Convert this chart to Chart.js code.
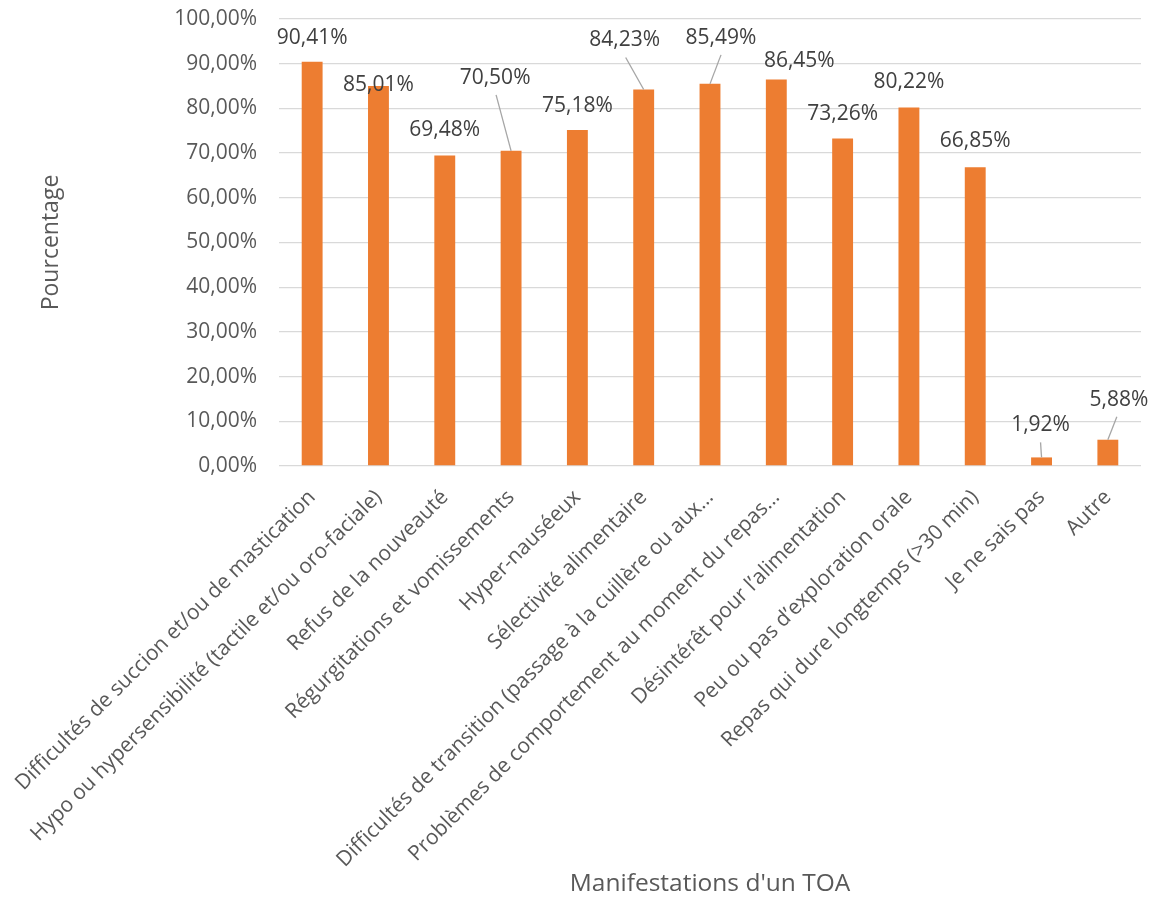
<!DOCTYPE html>
<html><head><meta charset="utf-8">
<script src="https://cdn.jsdelivr.net/npm/chart.js@4"></script>
<style>html,body{margin:0;padding:0;background:#fff}#wrap{width:1157px;height:899px}</style>
</head><body><div id="wrap"><canvas id="c" width="1157" height="899"></canvas></div>
<script>
const categories = [
  "Difficultés de succion et/ou de mastication",
  "Hypo ou hypersensibilité (tactile et/ou oro-faciale)",
  "Refus de la nouveauté",
  "Régurgitations et vomissements",
  "Hyper-nauséeux",
  "Sélectivité alimentaire",
  "Difficultés de transition (passage à la cuillère ou aux…",
  "Problèmes de comportement au moment du repas…",
  "Désintérêt pour l’alimentation",
  "Peu ou pas d’exploration orale",
  "Repas qui dure longtemps (>30 min)",
  "Je ne sais pas",
  "Autre"
];
const percentages = [90.41, 85.01, 69.48, 70.50, 75.18, 84.23, 85.49, 86.45, 73.26, 80.22, 66.85, 1.92, 5.88];
const yMin = 0, yMax = 100, yStep = 10;
const xTitle = "Manifestations d'un TOA";
const yTitle = "Pourcentage";

const fmt = v => v.toFixed(2).replace('.', ',') + '%';
const FONT = '"Open Sans", "Noto Sans", sans-serif';

// label placement nudges (pixels relative to bar top), like the manual placement in the original
const nudges = [
  {dx:0, dy:-24}, {dx:0, dy:-1}, {dx:0, dy:-25}, {dx:-16, dy:-73, line:true, lx:1},
  {dx:0, dy:-24}, {dx:-19, dy:-49, line:true, lx:1}, {dx:11, dy:-46, line:true, lx:0},
  {dx:23, dy:-19}, {dx:0, dy:-25}, {dx:0, dy:-25}, {dx:0, dy:-26},
  {dx:-1, dy:-32, line:true, lx:0}, {dx:11, dy:-40, line:true, lx:-2}
];

const labelPlugin = {
  id: 'barLabels',
  afterDatasetsDraw(chart) {
    const ctx = chart.ctx;
    const meta = chart.getDatasetMeta(0);
    ctx.save();
    ctx.font = '21px ' + FONT;
    ctx.textAlign = 'center';
    ctx.textBaseline = 'middle';
    meta.data.forEach((bar, i) => {
      const n = nudges[i] || {dx:0, dy:-25};
      const x = bar.x + n.dx, y = bar.y + n.dy;
      if (n.line) {
        ctx.strokeStyle = '#A6A6A6';
        ctx.lineWidth = 1.3;
        ctx.beginPath();
        ctx.moveTo(x + (n.lx || 0), y + 17);
        ctx.lineTo(bar.x, bar.y);
        ctx.stroke();
      }
      ctx.fillStyle = '#404040';
      ctx.fillText(fmt(percentages[i]), x, y);
    });
    ctx.restore();
  }
};

new Chart(document.getElementById('c'), {
  type: 'bar',
  data: {
    labels: categories,
    datasets: [{
      data: percentages,
      backgroundColor: '#ED7D31',
      borderWidth: 0,
      barPercentage: 0.315,
      categoryPercentage: 1
    }]
  },
  options: {
    responsive: false,
    animation: false,
    devicePixelRatio: 1,
    layout: { padding: { top: 19, right: 16, left: 0, bottom: 0 } },
    plugins: { legend: { display: false }, tooltip: { enabled: false } },
    scales: {
      x: {
        grid: { display: false, drawTicks: false },
        border: { display: false },
        ticks: {
          autoSkip: false, maxRotation: 45, minRotation: 45,
          color: '#595959', font: { family: FONT, size: 21 }, padding: 19
        },
        title: { display: true, text: xTitle, color: '#595959', font: { family: FONT, size: 24.5 }, padding: { top: 0, bottom: 0 } },
        afterFit(s) { s.height = 899 - 466; s.paddingLeft = 0; s.paddingRight = 0; }
      },
      y: {
        min: yMin, max: yMax,
        grid: { color: '#D9D9D9', lineWidth: 1.3, drawTicks: false },
        border: { display: false },
        ticks: {
          stepSize: yStep, color: '#595959', font: { family: FONT, size: 21 }, padding: 22,
          callback: v => fmt(v)
        },
        title: { display: true, text: yTitle, color: '#595959', font: { family: FONT, size: 23 }, padding: { top: 38, bottom: 0 } },
        afterFit(s) { s.width = 279; s.paddingTop = 0; s.paddingBottom = 0; }
      }
    }
  },
  plugins: [labelPlugin]
});
</script>
</body></html>
